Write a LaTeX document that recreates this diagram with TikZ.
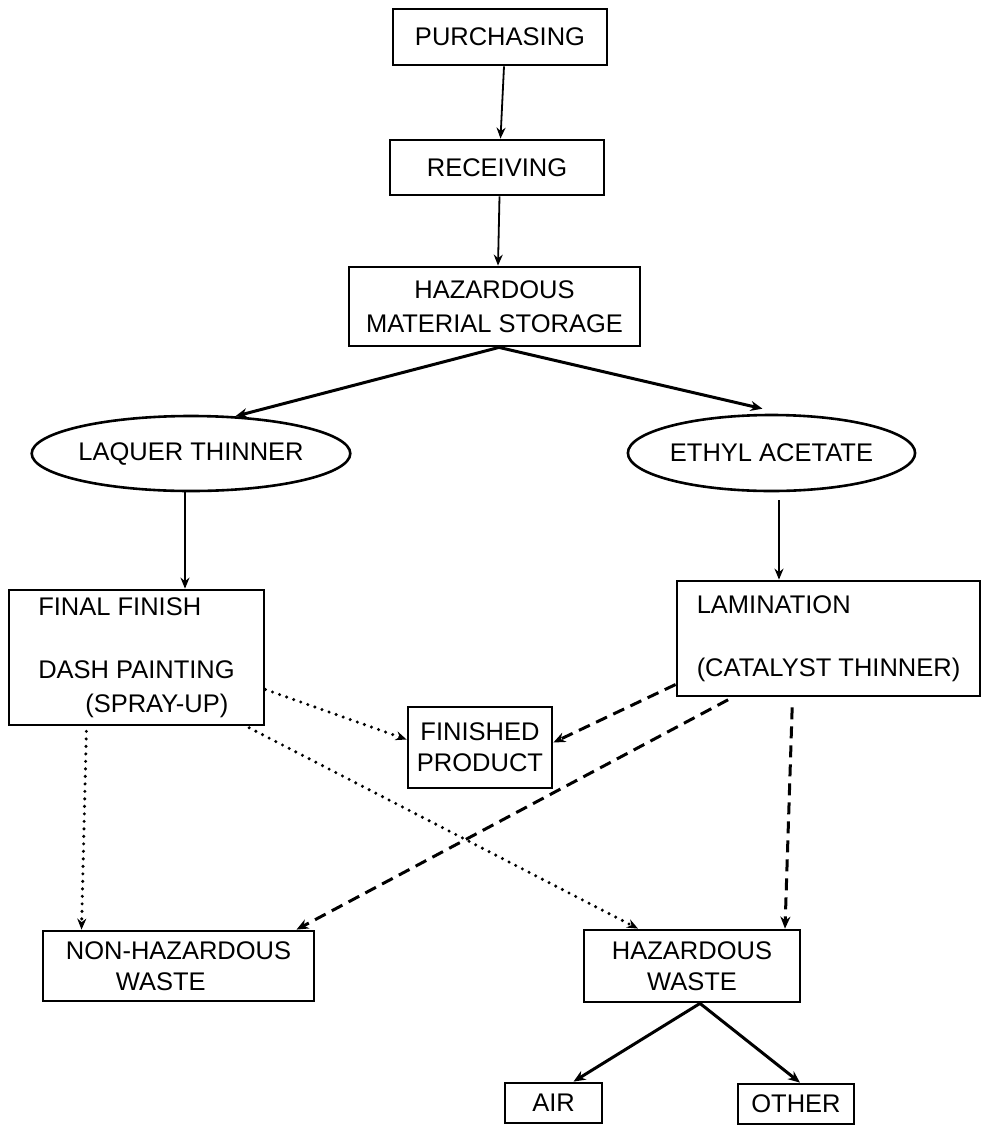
\documentclass[tikz,border=0pt]{standalone}
\usepackage{fontspec}
\setmainfont{Liberation Sans}
\usepackage{tikz}
\usetikzlibrary{shapes.geometric, arrows.meta}
\tikzstyle{box} = [rectangle, draw=black, line width=2.8pt, inner sep=0pt, align=center, font=\fontsize{25.5}{31}\selectfont]
\tikzstyle{oval} = [ellipse, draw=black, line width=2.6pt, inner sep=0pt, align=center, font=\fontsize{25.5}{31}\selectfont]
\tikzstyle{arrow} = [line width=1.8pt, -{Stealth[length=11pt,width=9pt]}]
\tikzstyle{heavyarrow} = [line width=3pt, -{Stealth[length=12pt,width=10pt]}]
\tikzstyle{dotarrow} = [line width=3.4pt, line cap=round, dash pattern=on 0pt off 7.5pt, -{Stealth[length=11pt,width=9pt]}]
\tikzstyle{dasharrow} = [line width=3pt, dash pattern=on 12pt off 7pt, -{Stealth[length=12pt,width=10pt]}]

\begin{document}
\begin{tikzpicture}[x=1pt, y=-1pt]
	\fill [white] (0,0) rectangle (981,1125);
	\useasboundingbox (0,0) rectangle (981,1125);
	\node (purch) [box, minimum width=214pt, minimum height=56pt] at (500,37) {PURCHASING};
	\node (recv) [box, minimum width=214pt, minimum height=55pt] at (497,167.5) {RECEIVING};
	\node (store) [box, minimum width=291pt, minimum height=79pt] at (494.5,306.5) {HAZARDOUS\\[3pt]MATERIAL STORAGE};
	\node (laquer) [oval, minimum width=272pt, minimum height=75pt] at (191,453.5) {LAQUER THINNER};
	\node (ethyl) [oval, minimum width=253pt, minimum height=76pt] at (771.5,453) {ETHYL ACETATE};
	\node (final) [box, align=left, minimum width=255pt, minimum height=135pt] at (136.5,657.5) {FINAL FINISH\\[32pt]DASH PAINTING\\[3pt]\hspace*{47pt}(SPRAY-UP)};
	\node (lam) [box, align=left, minimum width=303pt, minimum height=115pt] at (828.5,638.5) {LAMINATION\\[32pt](CATALYST THINNER)};
	\node (product) [box, minimum width=144pt, minimum height=81pt] at (480,747.5) {FINISHED\\PRODUCT};
	\node (nonhaz) [box, align=left, minimum width=271pt, minimum height=70pt] at (178.5,966) {NON-HAZARDOUS\\\hspace*{50pt}WASTE};
	\node (hazw) [box, minimum width=216pt, minimum height=72pt] at (692,966) {HAZARDOUS\\WASTE};
	\node (air) [box, minimum width=97pt, minimum height=40pt] at (553.5,1103) {AIR};
	\node (other) [box, minimum width=116pt, minimum height=40pt] at (796,1104) {OTHER};
	\draw [arrow] ([xshift=4pt]purch.south) -- ([xshift=3.5pt]recv.north);
	\draw [arrow] ([xshift=2.5pt]recv.south) -- ([xshift=3.5pt]store.north);
	\draw [heavyarrow] ([xshift=4.5pt]store.south) -- (laquer.40);
	\draw [heavyarrow] ([xshift=4.5pt]store.south) -- ([xshift=-9pt, yshift=5pt]ethyl.north);
	\draw [arrow] ([xshift=-6pt]laquer.south) -- ([xshift=-6pt]laquer.south |- final.north);
	\draw [arrow, shorten <=8pt] ([xshift=7.5pt]ethyl.south) -- ([xshift=7.5pt]ethyl.south |- lam.north);
	\draw [dotarrow] ([yshift=-32pt]final.east) -- ([yshift=8pt]product.west);
	\draw [dotarrow, shorten <=3pt] ([xshift=110pt]final.south) -- ([xshift=-54pt]hazw.north);
	\draw [dotarrow, shorten <=5pt] ([xshift=-50pt]final.south) -- ([xshift=-97pt]nonhaz.north);
	\draw [dasharrow] ([yshift=-46pt]lam.west) -- ([yshift=5pt]product.east);
	\draw [dasharrow, shorten <=5pt] ([xshift=-96pt]lam.south) -- ([xshift=118pt]nonhaz.north);
	\draw [dasharrow, shorten <=10pt] ([xshift=-36pt]lam.south) -- ([xshift=93pt]hazw.north);
	\draw [heavyarrow] ([xshift=8pt]hazw.south) -- ([xshift=20pt]air.north);
	\draw [heavyarrow] ([xshift=8pt]hazw.south) -- ([xshift=4pt]other.north);
\end{tikzpicture}
\end{document}
